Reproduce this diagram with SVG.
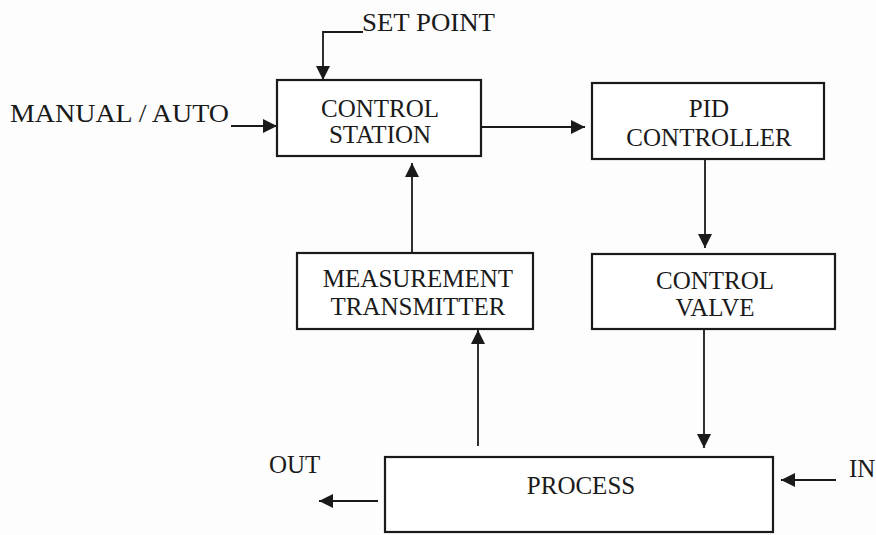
<svg xmlns="http://www.w3.org/2000/svg" width="876" height="535" viewBox="0 0 876 535">
<style>
  .box { fill: #ffffff; stroke: #1a1a1a; stroke-width: 2.2; }
  .lbl { font-family: "Liberation Serif", "Times New Roman", serif; font-size: 25px; fill: #1a1a1a; }
  .mid { text-anchor: middle; }
  .conn { fill: none; stroke: #1a1a1a; stroke-width: 1.8; marker-end: url(#arrow); }
</style>
<defs>
  <marker id="arrow" markerUnits="userSpaceOnUse" markerWidth="15" markerHeight="15" refX="14" refY="7" orient="auto">
    <path d="M0,0 L14,7 L0,14 z" fill="#1a1a1a"/>
  </marker>
</defs>
<rect width="876" height="535" fill="#fdfdfd"/>

<g id="connectors">
  <polyline class="conn" points="363,32 323,32 323,80"/>
  <line class="conn" x1="231" y1="126" x2="277" y2="126"/>
  <line class="conn" x1="481" y1="127" x2="585" y2="127"/>
  <line class="conn" x1="705" y1="159" x2="705" y2="248"/>
  <line class="conn" x1="704" y1="329" x2="704" y2="448"/>
  <line class="conn" x1="478" y1="446" x2="478" y2="330"/>
  <line class="conn" x1="412" y1="253" x2="412" y2="163"/>
  <line class="conn" x1="378" y1="501" x2="319" y2="501"/>
  <line class="conn" x1="836" y1="480" x2="781" y2="480"/>
</g>

<g id="setpoint"><text class="lbl" x="362" y="31" textLength="133" lengthAdjust="spacingAndGlyphs">SET POINT</text></g>
<g id="manualauto"><text class="lbl" x="10" y="122" textLength="219" lengthAdjust="spacingAndGlyphs">MANUAL / AUTO</text></g>
<g id="out"><text class="lbl" x="269" y="473">OUT</text></g>
<g id="in"><text class="lbl" x="849" y="477">IN</text></g>

<g id="control-station">
  <rect class="box" x="277" y="80" width="204" height="76"/>
  <text class="lbl mid" x="380" y="117">CONTROL</text>
  <text class="lbl mid" x="380" y="143">STATION</text>
</g>
<g id="pid-controller">
  <rect class="box" x="592" y="83" width="232" height="76"/>
  <text class="lbl mid" x="709" y="117">PID</text>
  <text class="lbl mid" x="709" y="146">CONTROLLER</text>
</g>
<g id="measurement-transmitter">
  <rect class="box" x="297" y="253" width="236" height="76"/>
  <text class="lbl mid" x="418" y="287">MEASUREMENT</text>
  <text class="lbl mid" x="418" y="315">TRANSMITTER</text>
</g>
<g id="control-valve">
  <rect class="box" x="592" y="254" width="243" height="75"/>
  <text class="lbl mid" x="715" y="289">CONTROL</text>
  <text class="lbl mid" x="715" y="316">VALVE</text>
</g>
<g id="process">
  <rect class="box" x="385" y="457" width="388" height="75"/>
  <text class="lbl mid" x="581" y="494">PROCESS</text>
</g>
</svg>
